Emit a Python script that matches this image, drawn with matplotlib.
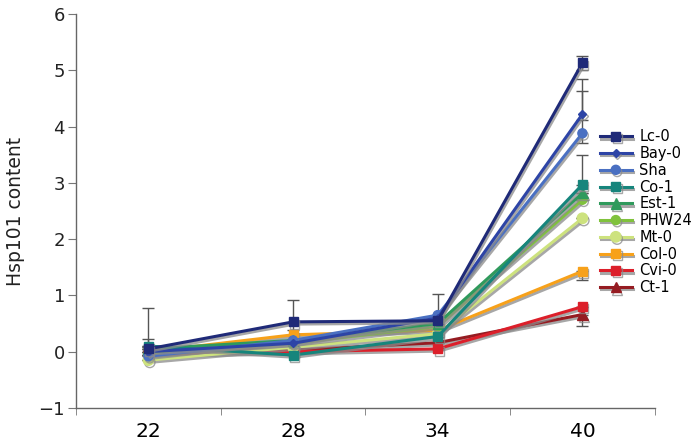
import matplotlib
matplotlib.use("Agg")
import matplotlib.pyplot as plt
import matplotlib.patheffects as pe
import numpy as np

temps = ["22", "28", "34", "40"]
names = ["Lc-0", "Bay-0", "Sha", "Co-1", "Est-1", "PHW24", "Mt-0", "Col-0", "Cvi-0", "Ct-1"]
lc0 = [0.05, 0.53, 0.55, 5.13]
bay0 = [0.0, 0.15, 0.60, 4.22]
sha = [-0.08, 0.20, 0.65, 3.88]
co1 = [0.10, -0.06, 0.27, 2.97]
est1 = [0.05, 0.20, 0.50, 2.82]
phw24 = [-0.05, 0.15, 0.45, 2.70]
mt0 = [-0.15, 0.08, 0.32, 2.37]
col0 = [0.00, 0.30, 0.38, 1.43]
cvi0 = [-0.05, 0.00, 0.05, 0.80]
ct1 = [0.08, 0.03, 0.16, 0.66]
values = [lc0, bay0, sha, co1, est1, phw24, mt0, col0, cvi0, ct1]

err_up = [
    [0.72, 0.38, 0.47, 0.12],
    [0.0, 0.0, 0.0, 0.63],
    [0.30, 0.0, 0.0, 0.75],
    [0.0, 0.0, 0.0, 0.53],
    [0.0, 0.0, 0.0, 0.0],
    [0.0, 0.0, 0.0, 0.0],
    [0.0, 0.0, 0.0, 0.0],
    [0.0, 0.0, 0.0, 0.0],
    [0.0, 0.0, 0.0, 0.0],
    [0.0, 0.0, 0.0, 0.0],
]
err_lo = [
    [0.0, 0.14, 0.0, 0.12],
    [0.0, 0.0, 0.0, 0.10],
    [0.0, 0.0, 0.0, 0.18],
    [0.0, 0.0, 0.0, 0.0],
    [0.0, 0.0, 0.0, 0.0],
    [0.0, 0.0, 0.0, 0.0],
    [0.0, 0.0, 0.0, 0.0],
    [0.0, 0.0, 0.0, 0.15],
    [0.0, 0.0, 0.0, 0.0],
    [0.0, 0.0, 0.0, 0.21],
]

colors = ["#1f2a78", "#2d44a6", "#4a70c2", "#16857c", "#2f9a5c", "#80c23c",
          "#cde27e", "#f7a11a", "#dc1f2a", "#951c22"]
markers = ["s", "D", "o", "s", "^", "o", "o", "s", "s", "^"]
msizes = [6.5, 4, 6.5, 6.5, 7.5, 6.5, 7.5, 6.5, 6.5, 7.5]

fig = plt.figure(figsize=(6.98, 4.48), dpi=100)
ax = fig.add_axes([0.109, 0.0893, 0.829, 0.8795])
x = np.arange(len(temps))

shadow = [pe.SimpleLineShadow(offset=(1.0, -1.6), shadow_color="#8a8a8a", alpha=0.75), pe.Normal()]

for i, (nm, v) in enumerate(zip(names, values)):
    ax.errorbar(x, v, yerr=[err_lo[i], err_up[i]], fmt="none", ecolor="#555555",
                elinewidth=1.0, capsize=4, capthick=1.0, zorder=1)

for i, (nm, v) in enumerate(zip(names, values)):
    ax.plot(x, v, color=colors[i], marker=markers[i], markersize=msizes[i], lw=2.2,
            label=nm, path_effects=shadow, zorder=3 + (10 - i) * 0.1)

ax.set_xlim(-0.5, 3.5)
ax.set_ylim(-1, 6)
ax.set_yticks(range(-1, 7))
ax.set_yticklabels(["\u22121" if t == -1 else str(t) for t in range(-1, 7)])
ax.set_xticks(x)
ax.set_xticklabels(temps, fontsize=14.5)
ax.set_xticks(np.arange(-0.5, 4.0, 1.0), minor=True)
ax.tick_params(axis="x", which="major", length=0, pad=10)
ax.tick_params(axis="x", which="minor", length=5, color="#777777", direction="out")
ax.tick_params(axis="y", labelsize=13, length=6, color="#777777", pad=2, labelcolor="#222222")
for s in ["top", "right"]:
    ax.spines[s].set_visible(False)
for s in ["left", "bottom"]:
    ax.spines[s].set_color("#666666")
    ax.spines[s].set_linewidth(1.0)
ax.set_ylabel("Hsp101 content", fontsize=13.5, color="#222222", labelpad=10)

leg = ax.legend(loc="upper left", bbox_to_anchor=(0.905, 0.707), frameon=False, fontsize=10.5,
                handlelength=2.2, labelspacing=0.12, handletextpad=0.5, borderaxespad=0,
                borderpad=0)

fig.savefig("out.png", dpi=100)
